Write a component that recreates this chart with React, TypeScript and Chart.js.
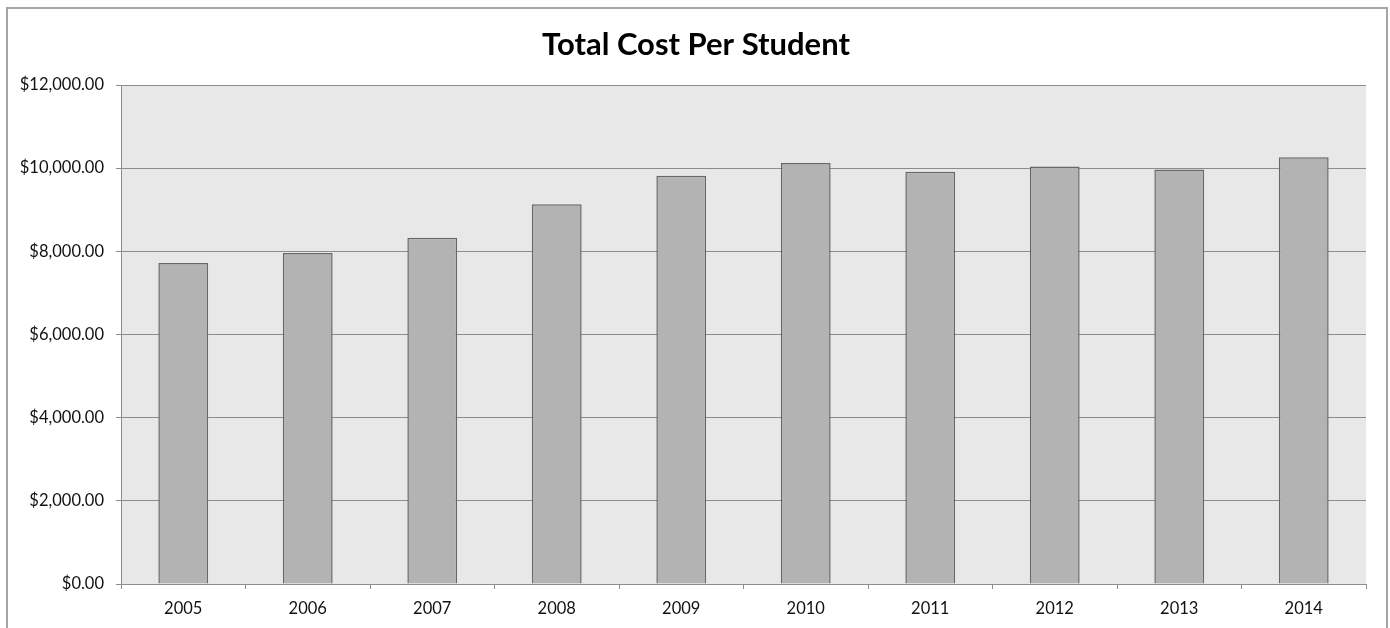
import React, { useEffect, useRef } from "react";
import { Chart, registerables } from "chart.js";

Chart.register(...registerables);

const years = ["2005", "2006", "2007", "2008", "2009", "2010", "2011", "2012", "2013", "2014"];
const costPerStudent = [7718, 7958, 8326, 9135, 9815, 10127, 9911, 10038, 9966, 10264];
const titleText = "Total Cost Per Student";

const framePlugin = {
  id: "frame",
  beforeDraw(chart: any) {
    const { ctx, chartArea } = chart;
    ctx.save();
    ctx.fillStyle = "#ffffff";
    ctx.fillRect(0, 0, chart.width, chart.height);
    ctx.fillStyle = "#e8e8e8";
    ctx.fillRect(chartArea.left, chartArea.top, chartArea.right - chartArea.left, chartArea.bottom - chartArea.top);
    ctx.strokeStyle = "#a6a6a6";
    ctx.lineWidth = 2;
    ctx.strokeRect(7, 8, 1380, 660);
    ctx.fillStyle = "#000000";
    ctx.font = "bold 31px Lato";
    ctx.textAlign = "center";
    ctx.textBaseline = "alphabetic";
    ctx.fillText(titleText, 696, 55);
    ctx.restore();
  },
};

export default function App() {
  const ref = useRef<HTMLCanvasElement>(null);
  useEffect(() => {
    if (!ref.current) return;
    const chart = new Chart(ref.current, {
      type: "bar",
      data: {
        labels: years,
        datasets: [
          {
            data: costPerStudent,
            backgroundColor: "#b3b3b3",
            borderColor: "#676767",
            borderWidth: 1.5,
            categoryPercentage: 1,
            barPercentage: 0.4,
          },
        ],
      },
      options: {
        responsive: false,
        animation: false,
        layout: { padding: { top: 85, right: 24, bottom: 0, left: 0 } },
        plugins: {
          legend: { display: false },
          tooltip: { enabled: false },
          title: { display: false },
        },
        scales: {
          x: {
            grid: {
              display: true,
              offset: true,
              drawOnChartArea: false,
              drawTicks: true,
              tickLength: 5,
              color: "#8c8c8c",
            },
            border: { display: true, color: "#8c8c8c", width: 1 },
            ticks: {
              color: "#111111",
              font: { family: "Lato", size: 16.5 },
              padding: 10,
            },
            afterFit(scale: any) {
              scale.height = 44;
            },
          },
          y: {
            min: 0,
            max: 12000,
            grid: {
              color: "#8c8c8c",
              lineWidth: 1,
              drawTicks: true,
              tickLength: 5,
            },
            border: { display: true, color: "#8c8c8c", width: 1 },
            ticks: {
              stepSize: 2000,
              color: "#111111",
              font: { family: "Lato", size: 16.5 },
              padding: 12,
              callback: (v: any) =>
                "$" + Number(v).toLocaleString("en-US", { minimumFractionDigits: 2, maximumFractionDigits: 2 }),
            },
            afterFit(scale: any) {
              scale.width = 121;
            },
          },
        },
      },
      plugins: [framePlugin],
    });
    return () => chart.destroy();
  }, []);
  return (
    <div style={{ position: "absolute", left: 0, top: 0, width: 1390, height: 628 }}>
      <canvas ref={ref} width={1390} height={628} style={{ display: "block", width: 1390, height: 628 }} />
    </div>
  );
}
